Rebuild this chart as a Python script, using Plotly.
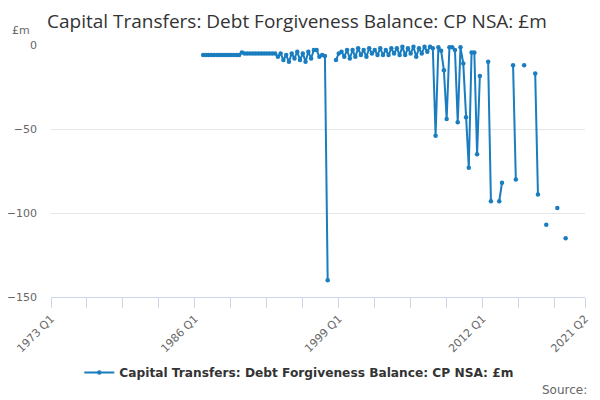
import plotly.graph_objects as go

# Quarter labels for the axis (1973 Q1 .. 2021 Q2)
years = list(range(1973, 2022))
quarters = [f"{y} Q{q}" for y in years for q in (1, 2, 3, 4)][:194]

series_name = "Capital Transfers: Debt Forgiveness Balance: CP NSA: £m"
start_quarter = "1986 Q4"

# values from 1986 Q4 to 2019 Q3 (None = no data)
values = [
    # 1986 Q4 .. 1990 Q1
    -6, -6, -6, -6, -6, -6, -6, -6, -6, -6, -6, -6, -6, -6,
    # 1990 Q2 .. 1993 Q1
    -4.5, -5, -5, -5, -5, -5, -5, -5, -5, -5, -5, -5, -5,
    # 1993 Q2 .. 1997 Q4
    -7, -5, -9, -6, -10, -5, -8, -4, -9, -5, -10, -4, -8, -3, -3, -7, -6, -6.5,
    # 1998 Q1 .. 1998 Q3
    -140, None, None,
    # 1998 Q4 .. 2007 Q3
    -9, -5, -4, -7, -3, -8, -3, -7, -2, -6, -3, -7, -2, -5, -3, -6, -2, -6,
    -3, -6, -2, -5, -2, -6, -1, -6, -2, -5, -1, -7, -2, -5, -1, -4, -1, -2,
    # 2007 Q4 .. 2011 Q4
    -54, -1.4, -3.4, -15, -44, -1.4, -1.4, -3, -46, -1.4, -11, -43, -73, -4.4, -4.4, -65, -18.5,
    # 2012 Q1 .. 2019 Q3
    None, None, -10, -93, None, None, -93, -82, None, None, None, -12, -80, None, None,
    -12, None, None, None, -17, -89, None, None, -107, None, None, None, -97, None, None, -115,
]

major_labels = ["1973 Q1", "1986 Q1", "1999 Q1", "2012 Q1", "2021 Q2"]
y_ticks = [-150, -100, -50, 0]

i0 = quarters.index(start_quarter)
x_idx = list(range(i0, i0 + len(values)))

tick_idx = list(range(0, 194, 13)) + [193]
tick_text = [quarters[i] if quarters[i] in major_labels else "" for i in tick_idx]

color = "#1a7dc0"

# the page body adds an 8px offset; the figure is sized to fit the window
W, H, OFF = 592, 392, 8

fig = go.Figure()
fig.add_trace(go.Scatter(
    x=x_idx, y=values, mode="lines+markers", name=series_name,
    line=dict(color=color, width=2), marker=dict(color=color, size=4.5),
    connectgaps=False, cliponaxis=False,
))

fig.update_layout(
    width=W, height=H,
    margin=dict(l=51 - OFF, r=15, t=45 - OFF, b=103, autoexpand=False),
    paper_bgcolor="white", plot_bgcolor="white",
    font=dict(family="DejaVu Sans", color="#666666", size=11),
    title=dict(text="Capital Transfers: Debt Forgiveness Balance: CP NSA: £m",
               x=(47 - OFF)/W, xanchor="left", xref="container",
               y=1-(21 - OFF)/H, yanchor="middle",
               font=dict(family="Open Sans", size=19, color="#333333")),
    showlegend=True,
    legend=dict(orientation="h", x=0.465, xanchor="center", y=-0.30, yanchor="middle",
                font=dict(family="DejaVu Sans", size=12.2, color="#333333", weight="bold"),
                itemwidth=30),
    xaxis=dict(range=[0, 193], tickmode="array", tickvals=tick_idx, ticktext=tick_text,
               tickangle=-45, showgrid=False, zeroline=False, automargin=False,
               showline=True, linecolor="#ccd6eb", linewidth=1,
               ticks="outside", ticklen=10, tickcolor="#ccd6eb",
               tickfont=dict(size=11, color="#666666")),
    yaxis=dict(range=[-150, 0], tickmode="array", tickvals=y_ticks, automargin=False,
               showgrid=True, gridcolor="#e6e6e6", zeroline=False,
               showline=False, ticks="", ticklabelstandoff=13,
               tickfont=dict(size=11, color="#666666")),
    annotations=[
        dict(text="£m", xref="paper", yref="paper", x=(10-50.8)/534.6, y=1+14/252,
             xanchor="left", yanchor="middle", showarrow=False,
             font=dict(size=11, color="#666666")),
        dict(text="Source:", xref="paper", yref="paper", x=(589-50.8)/534.6, y=(297-390)/252,
             xanchor="right", yanchor="middle", showarrow=False,
             font=dict(size=12, color="#666666")),
    ],
)

fig.write_html("out.html")
